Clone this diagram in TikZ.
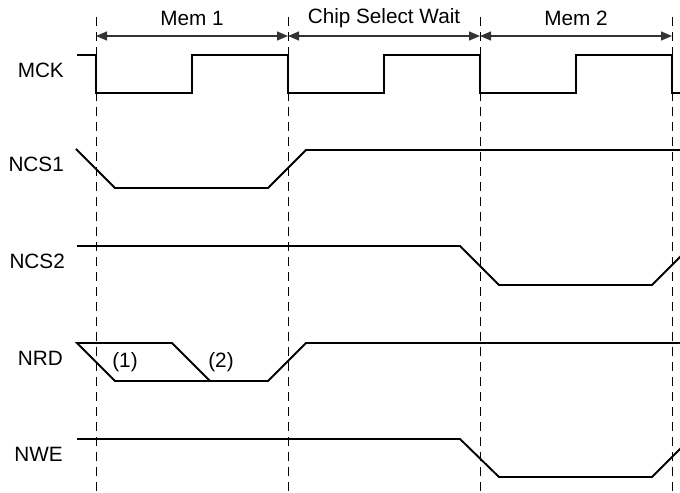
\documentclass[tikz,border=0pt]{standalone}
\usepackage{fontspec}
\setmainfont{Liberation Sans}
\usetikzlibrary{arrows.meta}
\begin{document}
\begin{tikzpicture}[x=1bp,y=-1bp,
  sig/.style={line width=1.9bp, line join=miter, black},
  guide/.style={line width=0.9bp, dash pattern=on 9bp off 6bp, black},
  span/.style={line width=1.1bp, black!80, {Triangle[length=11bp,width=9bp]}-{Triangle[length=11bp,width=9bp]}},
  lbl/.style={font=\fontsize{20.8}{24}\selectfont, inner sep=0pt},
  signame/.style={lbl, anchor=east}]
\useasboundingbox (0,0) rectangle (680,493);
% guide lines
\foreach \x/\n in {96/a,288/b,480/c,672/d}{
  \coordinate (t\n) at (\x,17);
  \coordinate (b\n) at (\x,493);
  \coordinate (m\n) at (\x,36);
  \draw[guide] (t\n) -- (b\n);
}
% spans
\draw[span] (ma) -- (mb);
\draw[span] (mb) -- (mc);
\draw[span] (mc) -- (md);
\node[lbl] (mem1) at (192,18) {Mem 1};
\node[lbl] (csw) at (384,18) {Chip Select Wait};
\node[lbl] (mem2) at (576,18) {Mem 2};
% names
\node[signame] (nmck) at (64,70) {MCK};
\node[signame] (nncs1) at (64,164) {NCS1};
\node[signame] (nncs2) at (65,261) {NCS2};
\node[signame] (nnrd) at (63,358) {NRD};
\node[signame] (nnwe) at (63,454) {NWE};
% MCK
\draw[sig] (77,55) -- (96,55) -- (96,93) -- (192,93) -- (192,55) -- (288,55) -- (288,93)
  -- (384,93) -- (384,55) -- (480,55) -- (480,93) -- (576,93) -- (576,55) -- (672,55)
  -- (672,93) -- (681,93);
% NCS1
\draw[sig] (76,149) -- (115,188) -- (268,188) -- (306,150) -- (681,150);
% NCS2
\draw[sig] (77,246) -- (460,246) -- (499,285) -- (652,285) -- (681,256);
% NRD
\draw[sig] (210,381) -- (172,343) -- (77,343) -- (115,381) -- (268,381) -- (306,343) -- (681,343);
\node[lbl] (l1) at (125,362) {(1)};
\node[lbl] (l2) at (221,362) {(2)};
% NWE
\draw[sig] (77,439) -- (460,439) -- (499,477) -- (652,477) -- (681,448);
\end{tikzpicture}
\end{document}
